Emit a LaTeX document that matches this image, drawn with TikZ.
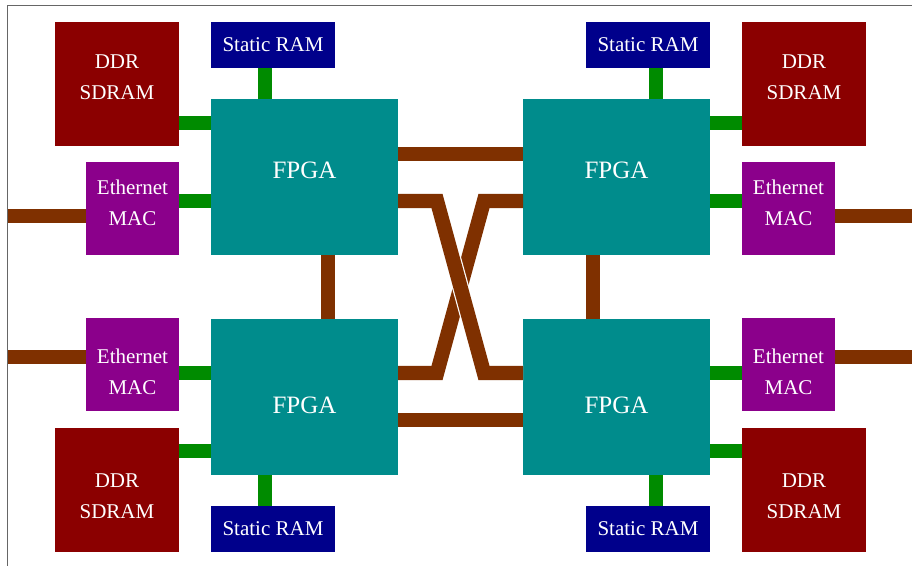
\documentclass[tikz,border=0pt]{standalone}
\usepackage{fontspec}
\setmainfont{Liberation Serif}
\definecolor{ddrred}{RGB}{139,0,0}
\definecolor{sramblue}{RGB}{0,0,139}
\definecolor{fpgateal}{RGB}{0,140,140}
\definecolor{macpurple}{RGB}{139,0,139}
\definecolor{busgreen}{RGB}{0,139,0}
\definecolor{busbrown}{RGB}{127,48,0}
\usetikzlibrary{calc}

\begin{document}
\begin{tikzpicture}[x=0.5pt,y=-0.5pt,
  blk/.style={inner sep=0pt,outer sep=0pt,text=white,align=center,
    font=\fontsize{10.5}{15.5}\selectfont},
  ddrbox/.style={blk,fill=ddrred,minimum width=62pt,minimum height=62pt},
  srambox/.style={blk,fill=sramblue,minimum width=62pt,minimum height=23pt},
  fpgabox/.style={blk,fill=fpgateal,minimum width=93.5pt,minimum height=78pt},
  macbox/.style={blk,fill=macpurple,minimum width=46.5pt,minimum height=46.5pt},
  txt/.style={blk},
  bigtxt/.style={blk,font=\fontsize{12.5}{15}\selectfont},
  gbus/.style={busgreen,line width=7.2pt},
  bbus/.style={busbrown,line width=7.2pt}
]
  \useasboundingbox (0,0) rectangle (912,566);
  % slide frame
  \draw[gray!80!black,line width=0.6pt] (7.5,566) |- (912,5.5);

  % FPGAs
  \node[fpgabox] (fpgaTL) at (304.5,177) {};
  \node[fpgabox] (fpgaTR) at (616.5,177) {};
  \node[fpgabox] (fpgaBL) at (304.5,397) {};
  \node[fpgabox] (fpgaBR) at (616.5,397) {};
  \node[bigtxt] (fpgaTLtxt) at (304.5,170) {FPGA};
  \node[bigtxt] (fpgaTRtxt) at (616.5,170) {FPGA};
  \node[bigtxt] (fpgaBLtxt) at (304.5,405) {FPGA};
  \node[bigtxt] (fpgaBRtxt) at (616.5,405) {FPGA};

  % DDR SDRAM
  \node[ddrbox] (ddrTL) at (117,84) {};
  \node[ddrbox] (ddrTR) at (804,84) {};
  \node[ddrbox] (ddrBL) at (117,490) {};
  \node[ddrbox] (ddrBR) at (804,490) {};
  \node[txt] (ddrTLtxt) at (117,77.5) {DDR\\SDRAM};
  \node[txt] (ddrTRtxt) at (804,77.5) {DDR\\SDRAM};
  \node[txt] (ddrBLtxt) at (117,496.5) {DDR\\SDRAM};
  \node[txt] (ddrBRtxt) at (804,496.5) {DDR\\SDRAM};

  % Static RAM
  \node[srambox] (sramTL) at (273,45) {Static RAM};
  \node[srambox] (sramTR) at (648,45) {Static RAM};
  \node[srambox] (sramBL) at (273,529) {Static RAM};
  \node[srambox] (sramBR) at (648,529) {Static RAM};

  % Ethernet MAC
  \node[macbox] (macTL) at (132.5,209) {};
  \node[macbox] (macTR) at (788.5,209) {};
  \node[macbox] (macBL) at (132.5,365) {};
  \node[macbox] (macBR) at (788.5,365) {};
  \node[txt] (macTLtxt) at (132.5,202.5) {Ethernet\\MAC};
  \node[txt] (macTRtxt) at (788.5,202.5) {Ethernet\\MAC};
  \node[txt] (macBLtxt) at (132.5,371.5) {Ethernet\\MAC};
  \node[txt] (macBRtxt) at (788.5,371.5) {Ethernet\\MAC};

  % outside links
  \coordinate (linkW1) at (7.5,216);
  \coordinate (linkW2) at (7.5,357);
  \coordinate (linkE1) at (912,216);
  \coordinate (linkE2) at (912,357);

  % memory and MAC buses
  \draw[gbus] ($(ddrTL.east)+(0,39)$) -- ($(fpgaTL.west)+(0,-54)$);
  \draw[gbus] ($(macTL.east)+(0,-8)$) -- ($(fpgaTL.west)+(0,24)$);
  \draw[gbus] ($(ddrTR.west)+(0,39)$) -- ($(fpgaTR.east)+(0,-54)$);
  \draw[gbus] ($(macTR.west)+(0,-8)$) -- ($(fpgaTR.east)+(0,24)$);
  \draw[gbus] ($(ddrBL.east)+(0,-39)$) -- ($(fpgaBL.west)+(0,54)$);
  \draw[gbus] ($(macBL.east)+(0,8)$) -- ($(fpgaBL.west)+(0,-24)$);
  \draw[gbus] ($(ddrBR.west)+(0,-39)$) -- ($(fpgaBR.east)+(0,54)$);
  \draw[gbus] ($(macBR.west)+(0,8)$) -- ($(fpgaBR.east)+(0,-24)$);
  \draw[gbus] ($(sramTL.south)+(-8,0)$) -- ($(fpgaTL.north)+(-39.5,0)$);
  \draw[gbus] ($(sramTR.south)+(8,0)$) -- ($(fpgaTR.north)+(39.5,0)$);
  \draw[gbus] ($(sramBL.north)+(-8,0)$) -- ($(fpgaBL.south)+(-39.5,0)$);
  \draw[gbus] ($(sramBR.north)+(8,0)$) -- ($(fpgaBR.south)+(39.5,0)$);

  % Ethernet links
  \draw[bbus] (macTL.west |- linkW1) -- (linkW1);
  \draw[bbus] (macBL.west |- linkW2) -- (linkW2);
  \draw[bbus] (macTR.east |- linkE1) -- (linkE1);
  \draw[bbus] (macBR.east |- linkE2) -- (linkE2);

  % FPGA interconnect
  \draw[bbus] ($(fpgaTL.east)+(0,-23)$) -- ($(fpgaTR.west)+(0,-23)$);
  \draw[bbus] ($(fpgaBL.east)+(0,23)$) -- ($(fpgaBR.west)+(0,23)$);
  \draw[bbus] ($(fpgaTL.south)+(23.5,0)$) -- ($(fpgaBL.north)+(23.5,0)$);
  \draw[bbus] ($(fpgaTR.south)+(-23.5,0)$) -- ($(fpgaBR.north)+(-23.5,0)$);
  \draw[bbus] ($(fpgaTR.west)+(0,24)$) -- ($(fpgaTR.west)+(-39,24)$)
    -- ($(fpgaBL.east)+(39,-24)$) -- ($(fpgaBL.east)+(0,-24)$);
  \draw[bbus,preaction={draw=white,line width=8.4pt}]
    ($(fpgaTL.east)+(0,24)$) -- ($(fpgaTL.east)+(39,24)$)
    -- ($(fpgaBR.west)+(-39,-24)$) -- ($(fpgaBR.west)+(0,-24)$);
\end{tikzpicture}
\end{document}
